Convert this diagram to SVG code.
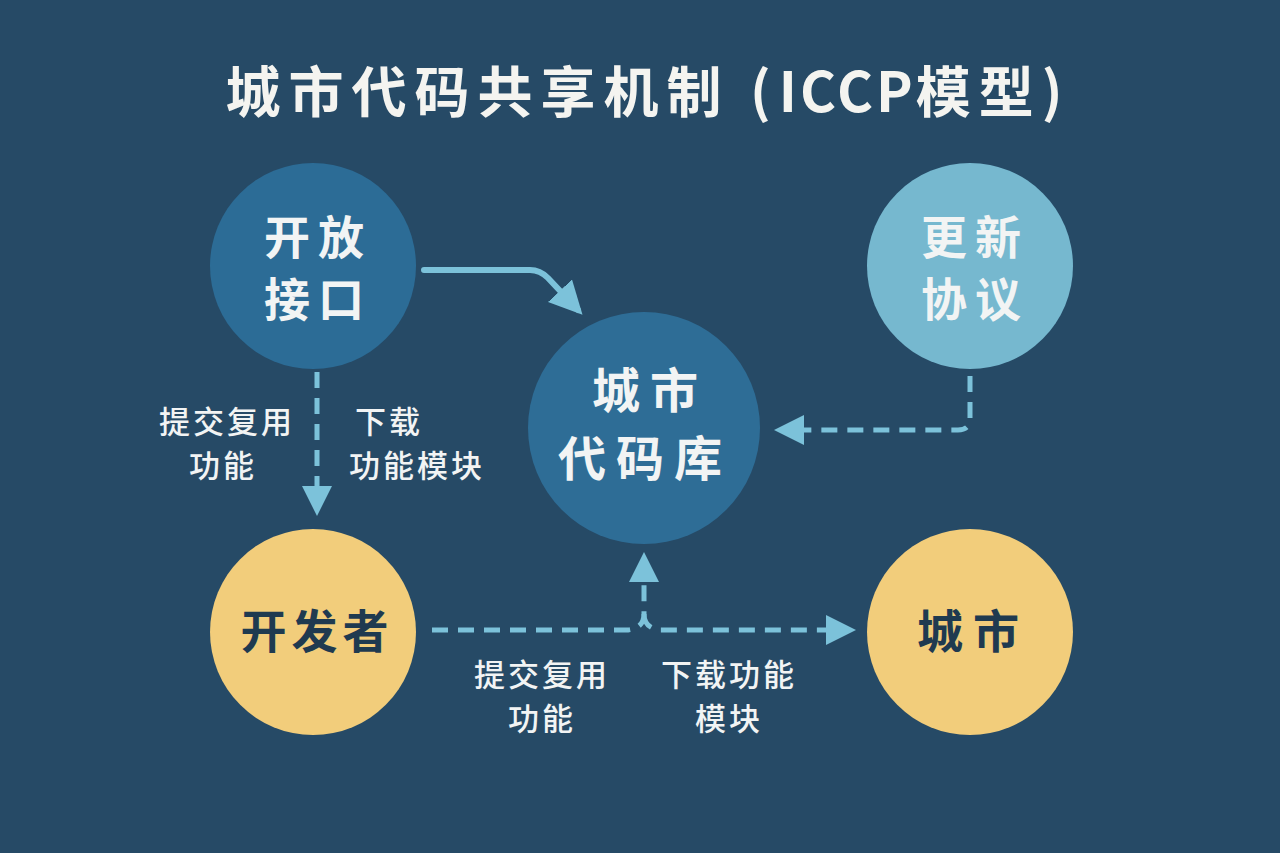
<svg xmlns="http://www.w3.org/2000/svg" width="1280" height="853" viewBox="0 0 1280 853">
<defs>
<style>
text{font-family:"Noto Sans CJK SC","Noto Sans",sans-serif;text-anchor:middle}
.title{font-size:55px;font-weight:700;fill:#f4f4f0;letter-spacing:8px}
.nl{font-size:46px;font-weight:700;fill:#f2f4f4;letter-spacing:8px}
.nr{font-size:48px;font-weight:700;fill:#f2f4f4;letter-spacing:10px}
.nd{font-size:46px;font-weight:700;fill:#1f3a50;letter-spacing:5px}
.lb{font-size:31px;font-weight:500;fill:#f2f4f4;letter-spacing:3px}
.solid{fill:none;stroke:#7cc2da;stroke-width:6;stroke-linecap:round}
.dash{fill:none;stroke:#7cc2da;stroke-width:5;stroke-dasharray:16 10}
</style>
<marker id="ah" viewBox="0 0 10 10" refX="8" refY="5" markerWidth="5.5" markerHeight="5.5" orient="auto" markerUnits="strokeWidth">
<path d="M0,0 L10,5 L0,10 Z" fill="#7cc2da"/>
</marker>
<marker id="ah2" viewBox="0 0 10 10" refX="8" refY="5" markerWidth="6" markerHeight="6" orient="auto" markerUnits="strokeWidth">
<path d="M0,0 L10,5 L0,10 Z" fill="#7cc2da"/>
</marker>
</defs>
<rect width="1280" height="853" fill="#264a66"/>
<text class="title" x="648" y="112">城市代码共享机制 (<tspan style="letter-spacing:3px">ICCP</tspan>模型)</text>

<g id="connectors">
<path class="solid" d="M424,270 L530,270 Q540,270 548,278 L578,310" marker-end="url(#ah)"/>
<path class="dash" d="M970,376 L970,418 Q970,430 958,430 L780,430" marker-end="url(#ah2)"/>
<path class="dash" d="M317,372 L317,510" marker-end="url(#ah2)"/>
<path class="dash" d="M432,630 L628,630 Q644,628 644,614 L644,558" marker-end="url(#ah2)"/>
<path class="dash" d="M644,614 Q644,628 660,630 L850,630" marker-end="url(#ah2)"/>
</g>

<g id="n-interface">
<circle cx="313" cy="266" r="103" fill="#2c6c96"/>
<text class="nl" x="318" y="254">开放</text>
<text class="nl" x="318" y="316">接口</text>
</g>
<g id="n-protocol">
<circle cx="970" cy="266" r="103" fill="#76b8cf"/>
<text class="nl" x="975" y="254">更新</text>
<text class="nl" x="975" y="316">协议</text>
</g>
<g id="n-repo">
<circle cx="644" cy="428" r="116" fill="#2e6d96"/>
<text class="nr" x="650" y="408">城市</text>
<text class="nr" x="645" y="476">代码库</text>
</g>
<g id="n-dev">
<circle cx="313" cy="632" r="103" fill="#f2cd7b"/>
<text class="nd" x="317" y="648">开发者</text>
</g>
<g id="n-city">
<circle cx="970" cy="632" r="103" fill="#f2cd7b"/>
<text class="nd" x="973" y="648" style="letter-spacing:10px">城市</text>
</g>

<g id="labels">
<text class="lb" x="227" y="433">提交复用</text>
<text class="lb" x="223" y="477">功能</text>
<text class="lb" x="355" y="433" style="text-anchor:start">下载</text>
<text class="lb" x="349" y="477" style="text-anchor:start">功能模块</text>
<text class="lb" x="542" y="686">提交复用</text>
<text class="lb" x="542" y="730">功能</text>
<text class="lb" x="729" y="686">下载功能</text>
<text class="lb" x="729" y="730">模块</text>
</g>
</svg>
